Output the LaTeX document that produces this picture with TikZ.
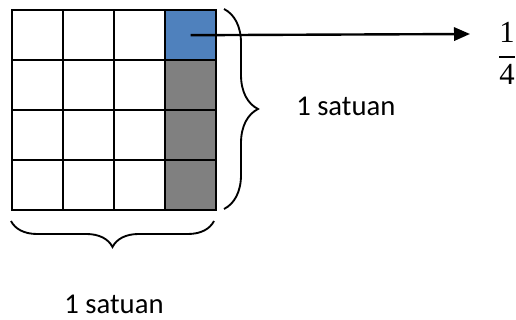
\documentclass[tikz,border=0pt]{standalone}
\usepackage{fontspec}
\setmainfont{Carlito}
\newfontfamily\fracfont{Liberation Serif}
\usetikzlibrary{arrows.meta, decorations.pathreplacing}
\definecolor{cellblue}{HTML}{4F81BD}
\definecolor{cellgray}{HTML}{808080}
\tikzset{
	cell/.style={draw, line width=1.8pt, minimum width=38.25pt, minimum height=37.5pt, inner sep=0pt, anchor=north west},
	curly/.style={decorate, decoration={brace, amplitude=#1}, line width=1.4pt},
	satuan/.style={font=\fontsize{21.5}{26}\selectfont, inner sep=0pt},
	digit/.style={font=\fracfont\fontsize{23}{27}\selectfont, inner sep=0pt, anchor=base}
}

\begin{document}
\begin{tikzpicture}[x=0.75pt, y=-0.75pt]
		\useasboundingbox (0, 0) rectangle (516, 320);
		% 4x4 grid, last column shaded
		\foreach \r in {0,...,3}
			\foreach \c/\col in {0/white, 1/white, 2/white, 3/cellgray}
				\node[cell, fill=\col](c\r\c) at (11+51*\c, 9+50*\r){};
		\node[cell, fill=cellblue](c03) at (164, 9){};
		\coordinate (tip) at (470, 34);
		\draw[line width=1.8pt, -{Triangle[length=12pt, width=10pt]}](c03.center)--(tip);
		\node[digit](num) at (507, 43){1};
		\node[digit](den) at (507, 85){4};
		\draw[line width=1.6pt](499, 57)--(515, 57);
		% braces for the side lengths
		\coordinate (r1) at (224, 9);
		\coordinate (r2) at (224, 209);
		\coordinate (b1) at (214, 221);
		\coordinate (b2) at (11, 221);
		\draw[curly=25.5pt](r1)--(r2);
		\draw[curly=19.5pt](b1)--(b2);
		\node[satuan, anchor=base west](side) at (296, 116){1 satuan};
		\node[satuan, anchor=base](bottom) at (114, 313){1 satuan};
	\end{tikzpicture}
\end{document}
